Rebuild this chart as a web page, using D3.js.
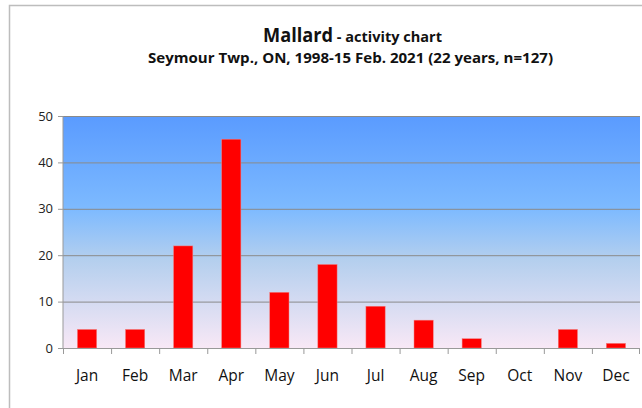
<!DOCTYPE html>
<html lang="en">
<head>
  <meta charset="UTF-8">
  <title>Mallard activity chart</title>
  <style>
    body { margin: 0; background: #fff; }
    svg { display: block; font-family: "Open Sans", sans-serif; }
  </style>
</head>
<body>
  <svg width="642" height="408"></svg>
  <script src="https://d3js.org/d3.v7.min.js"></script>
  <script>
  const months = ["Jan", "Feb", "Mar", "Apr", "May", "Jun", "Jul", "Aug", "Sep", "Oct", "Nov", "Dec"];
  const counts = [4, 4, 22, 45, 12, 18, 9, 6, 2, 0, 4, 1];
  const yTicks = [0, 10, 20, 30, 40, 50];

  const svg = d3.select("svg");
  const plotL = 63, plotR = 640, plotT = 116, plotB = 348;

  // outer chart border
  svg.append("rect")
    .attr("x", 9.5).attr("y", 5.5)
    .attr("width", 660).attr("height", 420)
    .attr("fill", "none").attr("stroke", "#bdbdbd").attr("stroke-width", 1.5);

  // background gradient
  const grad = svg.append("defs").append("linearGradient")
    .attr("id", "bg").attr("x1", 0).attr("y1", 0).attr("x2", 0).attr("y2", 1);
  grad.append("stop").attr("offset", "0%").attr("stop-color", "#5a9bff");
  grad.append("stop").attr("offset", "40%").attr("stop-color", "#7dbaff");
  grad.append("stop").attr("offset", "62%").attr("stop-color", "#b4cfee");
  grad.append("stop").attr("offset", "100%").attr("stop-color", "#f8e8f6");

  svg.append("rect")
    .attr("x", plotL).attr("y", plotT)
    .attr("width", plotR - plotL).attr("height", plotB - plotT)
    .attr("fill", "url(#bg)");

  const x = d3.scaleBand().domain(months).range([plotL, plotR]).paddingInner(0.6).paddingOuter(0.3);
  const xb = d3.scaleBand().domain(months).range([plotL, plotR]);
  const y = d3.scaleLinear().domain([0, 50]).range([plotB, plotT]);

  // gridlines
  svg.append("g").selectAll("line")
    .data(yTicks.filter(d => d > 0))
    .join("line")
    .attr("x1", plotL).attr("x2", plotR)
    .attr("y1", d => y(d) + 0.5).attr("y2", d => y(d) + 0.5)
    .attr("stroke", "#8a8a8a").attr("stroke-width", 1);

  // bars
  svg.append("g").selectAll("rect")
    .data(counts)
    .join("rect")
    .attr("x", (d, i) => x(months[i]))
    .attr("y", d => y(d))
    .attr("width", x.bandwidth())
    .attr("height", d => plotB - y(d))
    .attr("fill", "#ff0000")
    .attr("stroke", d => d > 0 ? "#f08080" : "none")
    .attr("stroke-width", 0.5);

  // y axis
  const yAxis = svg.append("g")
    .attr("transform", `translate(${plotL},0)`)
    .call(d3.axisLeft(y).tickValues(yTicks).tickSize(5).tickPadding(5));
  yAxis.attr("font-size", 13).attr("font-family", "Open Sans, sans-serif");
  yAxis.selectAll("line, path").attr("stroke", "#999");
  yAxis.select(".domain").attr("d", `M0,${plotT}V${plotB}`);
  yAxis.selectAll("text").attr("fill", "#222");

  // x axis baseline + ticks between categories
  const xg = svg.append("g");
  xg.append("line")
    .attr("x1", plotL).attr("x2", plotR)
    .attr("y1", plotB + 0.5).attr("y2", plotB + 0.5)
    .attr("stroke", "#999");
  xg.selectAll("line.tk")
    .data(months.concat(["end"]))
    .join("line")
    .attr("class", "tk")
    .attr("x1", (d, i) => i < 12 ? xb(d) + 0.5 : plotR - 0.5)
    .attr("x2", (d, i) => i < 12 ? xb(d) + 0.5 : plotR - 0.5)
    .attr("y1", plotB).attr("y2", plotB + 6)
    .attr("stroke", "#999");
  xg.selectAll("text")
    .data(months)
    .join("text")
    .attr("x", d => xb(d) + xb.bandwidth() / 2)
    .attr("y", 381)
    .attr("text-anchor", "middle")
    .attr("font-size", 15.5)
    .attr("fill", "#111")
    .text(d => d);

  // titles
  const t = svg.append("text")
    .attr("x", 263).attr("y", 42)
    .attr("font-weight", "bold")
    .attr("fill", "#111");
  t.append("tspan").attr("font-size", 20)
    .attr("textLength", 70).attr("lengthAdjust", "spacingAndGlyphs")
    .text("Mallard");
  t.append("tspan").attr("font-size", 14)
    .attr("textLength", 109).attr("lengthAdjust", "spacingAndGlyphs")
    .text(" - activity chart");

  svg.append("text")
    .attr("x", 148).attr("y", 63)
    .attr("font-weight", "bold")
    .attr("font-size", 15)
    .attr("fill", "#111")
    .attr("textLength", 405)
    .attr("lengthAdjust", "spacingAndGlyphs")
    .text("Seymour Twp., ON, 1998-15 Feb. 2021 (22 years, n=127)");
  </script>
</body>
</html>
